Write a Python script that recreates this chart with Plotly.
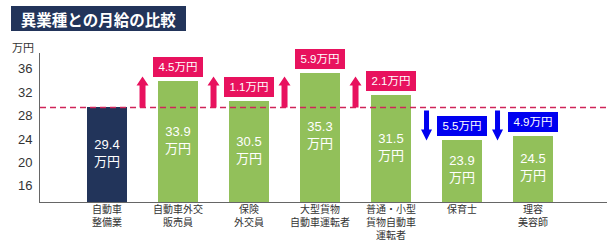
import plotly.graph_objects as go

# ---- data ----
categories = ["自動車<br>整備業", "自動車外交<br>販売員", "保険<br>外交員", "大型貨物<br>自動車運転者",
              "普通・小型<br>貨物自動車<br>運転者", "保育士", "理容<br>美容師"]
values = [29.4, 33.9, 30.5, 35.3, 31.5, 23.9, 24.5]
y_ticks = [16, 20, 24, 28, 32, 36]
title_text = "異業種との月給の比較"
unit_text = "万円"

NAVY = "#22345a"
GREEN = "#92c05a"
PINK = "#e8125e"
BLUE = "#0000f0"
DASH = "#d0245a"
FONT = "Liberation Sans, Noto Sans CJK JP, sans-serif"
Y_MIN, Y_MAX = 13.22, 38.71

base = values[0]
bar_colors = [NAVY] + [GREEN] * (len(values) - 1)

fig = go.Figure()
fig.add_trace(go.Bar(
    x=list(range(len(categories))), y=values, width=0.56,
    marker=dict(color=bar_colors, line=dict(width=0)),
    textposition="none",
    hoverinfo="skip", showlegend=False,
))

shapes = [dict(type="line", xref="paper", x0=0, x1=1.002, yref="y", y0=base, y1=base,
               line=dict(color=DASH, width=1.5, dash="6px,4px"), layer="above")]
annotations = []
for i, v in enumerate(values):
    annotations.append(dict(x=i, y=(v + Y_MIN) / 2, xref="x", yref="y", text=f"{v:.1f}<br>万円",
                            showarrow=False, yanchor="middle", yshift=2,
                            font=dict(color="white", size=13, family=FONT), align="center"))
for i in range(1, len(values)):
    d = values[i] - base
    col = PINK if d > 0 else BLUE
    annotations.append(dict(x=i, y=values[i], xref="x", yref="y", text=f"{abs(d):.1f}万円",
                            showarrow=False, yanchor="bottom", yshift=4,
                            width=50, height=20, bgcolor=col, borderpad=0, borderwidth=0,
                            font=dict(color="white", size=11.5, family=FONT),
                            align="center", valign="middle"))
    if d > 0:
        path = "M -3,0 L -3,22 L -6,22 L 0,31 L 6,22 L 3,22 L 3,0 Z"
    else:
        path = "M -2.5,-3 L -2.5,-22 L -5.5,-22 L 0,-33 L 5.5,-22 L 2.5,-22 L 2.5,-3 Z"
    shapes.append(dict(type="path", xref="x", yref="y", xsizemode="pixel", ysizemode="pixel",
                       xanchor=i - 0.5, yanchor=base, path=path,
                       fillcolor=col, line=dict(width=0), layer="above"))

# title box and unit label
annotations.append(dict(xref="paper", yref="paper", x=(11 - 40) / 567, y=(202 - 5.7) / 149,
                        xanchor="left", yanchor="top", text=f"<b>{title_text}</b>", showarrow=False,
                        width=175, height=25, bgcolor=NAVY, borderpad=0, borderwidth=0,
                        font=dict(color="white", size=15.5, family="Noto Sans CJK JP"),
                        align="center", valign="middle"))
annotations.append(dict(xref="paper", yref="paper", x=(23 - 40) / 567, y=(202 - 48) / 149,
                        xanchor="center", yanchor="middle", text=unit_text, showarrow=False,
                        font=dict(color="#333333", size=11, family=FONT)))

fig.update_layout(
    width=616, height=240,
    margin=dict(l=40, r=9, t=53, b=38, autoexpand=False),
    paper_bgcolor="white", plot_bgcolor="white",
    shapes=shapes, annotations=annotations,
    bargap=0,
    xaxis=dict(type="linear", range=[-0.944, 7.042], tickvals=list(range(len(categories))),
               ticktext=categories, showline=True, linecolor="#666666", linewidth=1,
               ticks="", showgrid=False, zeroline=False, automargin=False,
               ticklabelstandoff=-2,
               tickfont=dict(size=10, color="#333333", family=FONT)),
    yaxis=dict(range=[Y_MIN, Y_MAX], tickvals=y_ticks, showline=True, linecolor="#666666",
               linewidth=1, ticks="", showgrid=False, zeroline=False, ticklabelstandoff=4,
               automargin=False,
               tickfont=dict(size=13, color="#333333", family=FONT)),
)

fig.write_html("out.html")
